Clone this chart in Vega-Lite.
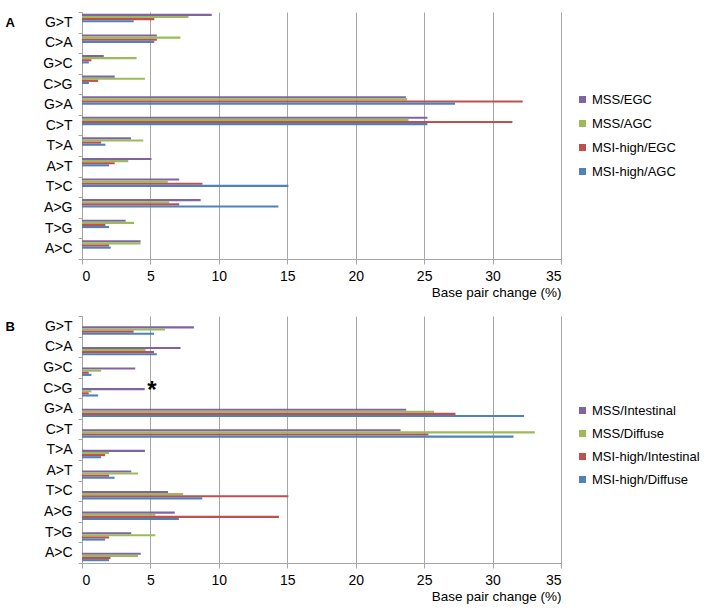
{
  "$schema": "https://vega.github.io/schema/vega-lite/v6.json",
  "background": "white",
  "padding": {"left": 5, "top": 5, "right": 5, "bottom": 5},
  "config": {
    "view": {"stroke": null},
    "font": "Liberation Sans",
    "axis": {"domainColor": "#A6A6A6", "tickColor": "#A6A6A6", "gridColor": "#A6A6A6", "labelColor": "#000000", "labelFont": "Liberation Sans", "titleFont": "Liberation Sans", "titleColor": "#000000", "titleFontWeight": "normal"},
    "legend": {"labelFont": "Liberation Sans", "labelColor": "#000000"}
  },
  "datasets": {
    "A": [
      {"mut": "G>T", "group": "MSS/EGC", "value": 9.48}, {"mut": "G>T", "group": "MSS/AGC", "value": 7.78}, {"mut": "G>T", "group": "MSI-high/EGC", "value": 5.28}, {"mut": "G>T", "group": "MSI-high/AGC", "value": 3.78},
      {"mut": "C>A", "group": "MSS/EGC", "value": 5.47}, {"mut": "C>A", "group": "MSS/AGC", "value": 7.19}, {"mut": "C>A", "group": "MSI-high/EGC", "value": 5.47}, {"mut": "C>A", "group": "MSI-high/AGC", "value": 5.28},
      {"mut": "G>C", "group": "MSS/EGC", "value": 1.59}, {"mut": "G>C", "group": "MSS/AGC", "value": 3.99}, {"mut": "G>C", "group": "MSI-high/EGC", "value": 0.69}, {"mut": "G>C", "group": "MSI-high/AGC", "value": 0.5},
      {"mut": "C>G", "group": "MSS/EGC", "value": 2.39}, {"mut": "C>G", "group": "MSS/AGC", "value": 4.6}, {"mut": "C>G", "group": "MSI-high/EGC", "value": 1.18}, {"mut": "C>G", "group": "MSI-high/AGC", "value": 0.5},
      {"mut": "G>A", "group": "MSS/EGC", "value": 23.67}, {"mut": "G>A", "group": "MSS/AGC", "value": 23.76}, {"mut": "G>A", "group": "MSI-high/EGC", "value": 32.2}, {"mut": "G>A", "group": "MSI-high/AGC", "value": 27.26},
      {"mut": "C>T", "group": "MSS/EGC", "value": 25.24}, {"mut": "C>T", "group": "MSS/AGC", "value": 23.86}, {"mut": "C>T", "group": "MSI-high/EGC", "value": 31.45}, {"mut": "C>T", "group": "MSI-high/AGC", "value": 25.24},
      {"mut": "T>A", "group": "MSS/EGC", "value": 3.58}, {"mut": "T>A", "group": "MSS/AGC", "value": 4.48}, {"mut": "T>A", "group": "MSI-high/EGC", "value": 1.4}, {"mut": "T>A", "group": "MSI-high/AGC", "value": 1.71},
      {"mut": "A>T", "group": "MSS/EGC", "value": 5.08}, {"mut": "A>T", "group": "MSS/AGC", "value": 3.38}, {"mut": "A>T", "group": "MSI-high/EGC", "value": 2.39}, {"mut": "A>T", "group": "MSI-high/AGC", "value": 1.98},
      {"mut": "T>C", "group": "MSS/EGC", "value": 7.1}, {"mut": "T>C", "group": "MSS/AGC", "value": 6.27}, {"mut": "T>C", "group": "MSI-high/EGC", "value": 8.8}, {"mut": "T>C", "group": "MSI-high/AGC", "value": 15.08},
      {"mut": "A>G", "group": "MSS/EGC", "value": 8.67}, {"mut": "A>G", "group": "MSS/AGC", "value": 6.37}, {"mut": "A>G", "group": "MSI-high/EGC", "value": 7.1}, {"mut": "A>G", "group": "MSI-high/AGC", "value": 14.35},
      {"mut": "T>G", "group": "MSS/EGC", "value": 3.19}, {"mut": "T>G", "group": "MSS/AGC", "value": 3.8}, {"mut": "T>G", "group": "MSI-high/EGC", "value": 1.71}, {"mut": "T>G", "group": "MSI-high/AGC", "value": 1.98},
      {"mut": "A>C", "group": "MSS/EGC", "value": 4.28}, {"mut": "A>C", "group": "MSS/AGC", "value": 4.28}, {"mut": "A>C", "group": "MSI-high/EGC", "value": 1.98}, {"mut": "A>C", "group": "MSI-high/AGC", "value": 2.1}
    ],
    "B": [
      {"mut": "G>T", "group": "MSS/Intestinal", "value": 8.18}, {"mut": "G>T", "group": "MSS/Diffuse", "value": 6.07}, {"mut": "G>T", "group": "MSI-high/Intestinal", "value": 3.77}, {"mut": "G>T", "group": "MSI-high/Diffuse", "value": 5.26},
      {"mut": "C>A", "group": "MSS/Intestinal", "value": 7.2}, {"mut": "C>A", "group": "MSS/Diffuse", "value": 4.65}, {"mut": "C>A", "group": "MSI-high/Intestinal", "value": 5.26}, {"mut": "C>A", "group": "MSI-high/Diffuse", "value": 5.46},
      {"mut": "G>C", "group": "MSS/Intestinal", "value": 3.89}, {"mut": "G>C", "group": "MSS/Diffuse", "value": 1.4}, {"mut": "G>C", "group": "MSI-high/Intestinal", "value": 0.49}, {"mut": "G>C", "group": "MSI-high/Diffuse", "value": 0.69},
      {"mut": "C>G", "group": "MSS/Intestinal", "value": 4.58}, {"mut": "C>G", "group": "MSS/Diffuse", "value": 0.69}, {"mut": "C>G", "group": "MSI-high/Intestinal", "value": 0.49}, {"mut": "C>G", "group": "MSI-high/Diffuse", "value": 1.18},
      {"mut": "G>A", "group": "MSS/Intestinal", "value": 23.69}, {"mut": "G>A", "group": "MSS/Diffuse", "value": 25.72}, {"mut": "G>A", "group": "MSI-high/Intestinal", "value": 27.29}, {"mut": "G>A", "group": "MSI-high/Diffuse", "value": 32.3},
      {"mut": "C>T", "group": "MSS/Intestinal", "value": 23.28}, {"mut": "C>T", "group": "MSS/Diffuse", "value": 33.09}, {"mut": "C>T", "group": "MSI-high/Intestinal", "value": 25.31}, {"mut": "C>T", "group": "MSI-high/Diffuse", "value": 31.53},
      {"mut": "T>A", "group": "MSS/Intestinal", "value": 4.6}, {"mut": "T>A", "group": "MSS/Diffuse", "value": 1.98}, {"mut": "T>A", "group": "MSI-high/Intestinal", "value": 1.69}, {"mut": "T>A", "group": "MSI-high/Diffuse", "value": 1.4},
      {"mut": "A>T", "group": "MSS/Intestinal", "value": 3.6}, {"mut": "A>T", "group": "MSS/Diffuse", "value": 4.09}, {"mut": "A>T", "group": "MSI-high/Intestinal", "value": 1.98}, {"mut": "A>T", "group": "MSI-high/Diffuse", "value": 2.38},
      {"mut": "T>C", "group": "MSS/Intestinal", "value": 6.29}, {"mut": "T>C", "group": "MSS/Diffuse", "value": 7.39}, {"mut": "T>C", "group": "MSI-high/Intestinal", "value": 15.08}, {"mut": "T>C", "group": "MSI-high/Diffuse", "value": 8.79},
      {"mut": "A>G", "group": "MSS/Intestinal", "value": 6.78}, {"mut": "A>G", "group": "MSS/Diffuse", "value": 5.36}, {"mut": "A>G", "group": "MSI-high/Intestinal", "value": 14.39}, {"mut": "A>G", "group": "MSI-high/Diffuse", "value": 7.08},
      {"mut": "T>G", "group": "MSS/Intestinal", "value": 3.6}, {"mut": "T>G", "group": "MSS/Diffuse", "value": 5.36}, {"mut": "T>G", "group": "MSI-high/Intestinal", "value": 1.98}, {"mut": "T>G", "group": "MSI-high/Diffuse", "value": 1.69},
      {"mut": "A>C", "group": "MSS/Intestinal", "value": 4.29}, {"mut": "A>C", "group": "MSS/Diffuse", "value": 4.09}, {"mut": "A>C", "group": "MSI-high/Intestinal", "value": 2.08}, {"mut": "A>C", "group": "MSI-high/Diffuse", "value": 1.98}
    ],
    "star": [{"mut": "C>G", "value": 5.1, "label": "*"}]
  },
  "spacing": 10,
  "resolve": {"scale": {"color": "independent"}, "legend": {"color": "independent"}},
  "vconcat": [
    {
      "width": 479,
      "height": 247,
      "data": {"name": "A"},
      "mark": {"type": "bar"},
      "encoding": {
        "y": {"field": "mut", "type": "nominal", "scale": {"domain": ["G>T", "C>A", "G>C", "C>G", "G>A", "C>T", "T>A", "A>T", "T>C", "A>G", "T>G", "A>C"], "paddingInner": 0, "paddingOuter": 0}, "axis": {"title": "A", "titleAngle": 0, "titleFontSize": 13, "titleFontWeight": "bold", "titleAlign": "left", "titleBaseline": "middle", "titleX": -77, "titleY": 10, "tickBand": "extent", "labelFontSize": 14, "labelPadding": 6, "tickSize": 4}},
        "yOffset": {"field": "group", "type": "nominal", "scale": {"domain": ["MSS/EGC", "MSS/AGC", "MSI-high/EGC", "MSI-high/AGC"], "paddingInner": 0, "paddingOuter": 0.85}},
        "x": {"field": "value", "type": "quantitative", "scale": {"domain": [0, 35], "nice": false}, "axis": {"values": [0, 5, 10, 15, 20, 25, 30, 35], "title": "Base pair change (%)", "titleAnchor": "end", "titleFontSize": 13.5, "labelFontSize": 14, "grid": true, "tickSize": 5, "labelPadding": 5, "titlePadding": 2}},
        "color": {"field": "group", "type": "nominal", "scale": {"domain": ["MSS/EGC", "MSS/AGC", "MSI-high/EGC", "MSI-high/AGC"], "range": ["#8064A2", "#9BBB59", "#C0504D", "#4F81BD"]}, "legend": {"title": null, "orient": "none", "legendX": 494, "legendY": 81, "symbolType": "square", "symbolSize": 49, "labelFontSize": 13, "rowPadding": 10, "labelOffset": 3, "symbolStrokeWidth": 0, "padding": 0}}
      }
    },
    {
      "width": 479,
      "height": 247,
      "layer": [
        {
          "data": {"name": "B"},
          "mark": {"type": "bar"},
          "encoding": {
            "y": {"field": "mut", "type": "nominal", "scale": {"domain": ["G>T", "C>A", "G>C", "C>G", "G>A", "C>T", "T>A", "A>T", "T>C", "A>G", "T>G", "A>C"], "paddingInner": 0, "paddingOuter": 0}, "axis": {"title": "B", "titleAngle": 0, "titleFontSize": 13, "titleFontWeight": "bold", "titleAlign": "left", "titleBaseline": "middle", "titleX": -77, "titleY": 10, "tickBand": "extent", "labelFontSize": 14, "labelPadding": 6, "tickSize": 4}},
            "yOffset": {"field": "group", "type": "nominal", "scale": {"domain": ["MSS/Intestinal", "MSS/Diffuse", "MSI-high/Intestinal", "MSI-high/Diffuse"], "paddingInner": 0, "paddingOuter": 0.85}},
            "x": {"field": "value", "type": "quantitative", "scale": {"domain": [0, 35], "nice": false}, "axis": {"values": [0, 5, 10, 15, 20, 25, 30, 35], "title": "Base pair change (%)", "titleAnchor": "end", "titleFontSize": 13.5, "labelFontSize": 14, "grid": true, "tickSize": 5, "labelPadding": 5, "titlePadding": 2}},
            "color": {"field": "group", "type": "nominal", "scale": {"domain": ["MSS/Intestinal", "MSS/Diffuse", "MSI-high/Intestinal", "MSI-high/Diffuse"], "range": ["#8064A2", "#9BBB59", "#C0504D", "#4F81BD"]}, "legend": {"title": null, "orient": "none", "legendX": 494, "legendY": 88, "symbolType": "square", "symbolSize": 49, "labelFontSize": 13, "rowPadding": 9, "labelOffset": 3, "symbolStrokeWidth": 0, "padding": 0}}
          }
        },
        {
          "data": {"name": "star"},
          "mark": {"type": "text", "fontSize": 24, "fontWeight": "bold", "baseline": "alphabetic", "align": "center", "dy": 10, "color": "#000000"},
          "encoding": {
            "y": {"field": "mut", "type": "nominal"},
            "x": {"field": "value", "type": "quantitative"},
            "text": {"field": "label"}
          }
        }
      ]
    }
  ]
}
